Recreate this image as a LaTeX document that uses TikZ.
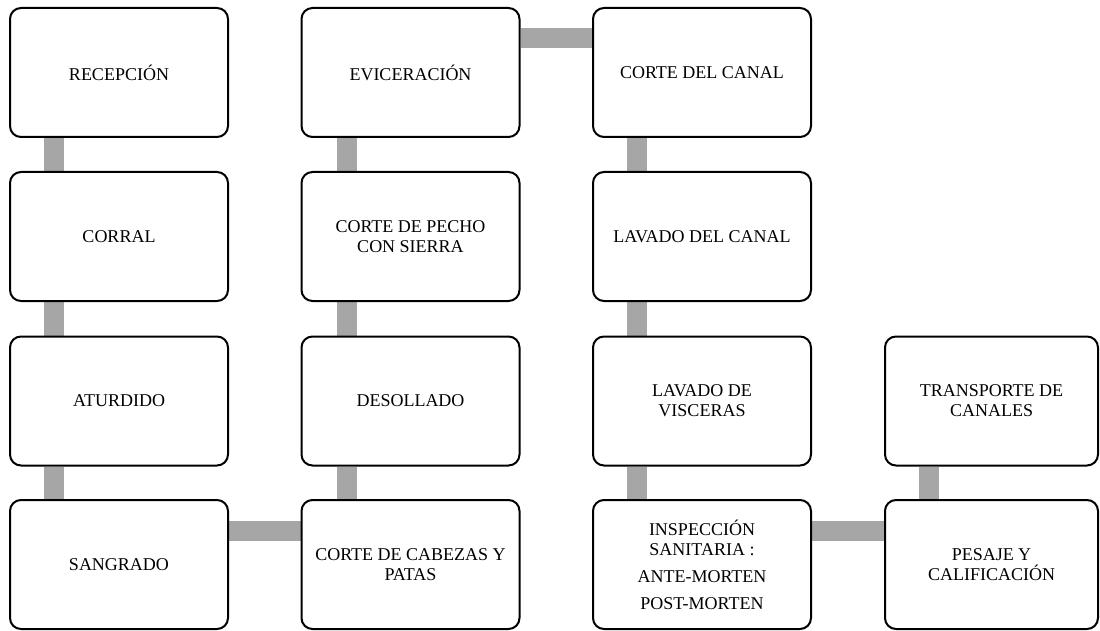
\documentclass[tikz,border=0pt]{standalone}
\usepackage{fontspec}
\setmainfont{Liberation Serif}
\usetikzlibrary{calc,backgrounds}
\definecolor{linkgray}{RGB}{166,166,166}
\begin{document}
\begin{tikzpicture}[x=1pt,y=-1pt,
  box/.style={draw=black, line width=2pt, rounded corners=11pt, fill=white,
    minimum width=218pt, minimum height=129pt, align=center, inner sep=0pt,
    font=\fontsize{18}{20}\selectfont},
  conn/.style={draw=linkgray, line width=20pt}]
\useasboundingbox (0,0) rectangle (1100,631);
% column 1
\node[box] (rec) at (119,72.5) {RECEPCIÓN};
\node[box] (cor) at (119,236.5) {CORRAL};
\node[box] (atu) at (119,401) {ATURDIDO};
\node[box] (san) at (119,564.5) {SANGRADO};
% column 2
\node[box] (cab) at (410.5,564.5) {CORTE DE CABEZAS Y\\PATAS};
\node[box] (des) at (410.5,401) {DESOLLADO};
\node[box] (pec) at (410.5,236.5) {CORTE DE PECHO\\CON SIERRA};
\node[box] (evi) at (410.5,72.5) {EVICERACIÓN};
% column 3
\node[box] (can) at (702,72.5) {CORTE DEL CANAL};
\node[box] (lav) at (702,236.5) {LAVADO DEL CANAL};
\node[box] (vis) at (702,401) {LAVADO DE\\VISCERAS};
\node[box] (ins) at (702,564.5) {INSPECCIÓN\\SANITARIA :\\[7pt]ANTE-MORTEN\\[7pt]POST-MORTEN};
% column 4
\node[box, minimum width=213pt] (pes) at (991.5,564.5) {PESAJE Y\\CALIFICACIÓN};
\node[box, minimum width=213pt] (tra) at (991.5,401) {TRANSPORTE DE\\CANALES};
\begin{scope}[on background layer]
  % column 1 vertical
  \draw[conn] ($(rec.south west)+(45,0)$) -- ($(cor.north west)+(45,0)$);
  \draw[conn] ($(cor.south west)+(45,0)$) -- ($(atu.north west)+(45,0)$);
  \draw[conn] ($(atu.south west)+(45,0)$) -- ($(san.north west)+(45,0)$);
  % column 1 -> column 2
  \draw[conn] ($(san.north east)+(0,32)$) -- ($(cab.north west)+(0,32)$);
  % column 2 vertical
  \draw[conn] ($(cab.north west)+(46,0)$) -- ($(des.south west)+(46,0)$);
  \draw[conn] ($(des.north west)+(46,0)$) -- ($(pec.south west)+(46,0)$);
  \draw[conn] ($(pec.north west)+(46,0)$) -- ($(evi.south west)+(46,0)$);
  % column 2 -> column 3
  \draw[conn] ($(evi.north east)+(0,31.5)$) -- ($(can.north west)+(0,31.5)$);
  % column 3 vertical
  \draw[conn] ($(can.south west)+(45,0)$) -- ($(lav.north west)+(45,0)$);
  \draw[conn] ($(lav.south west)+(45,0)$) -- ($(vis.north west)+(45,0)$);
  \draw[conn] ($(vis.south west)+(45,0)$) -- ($(ins.north west)+(45,0)$);
  % column 3 -> column 4
  \draw[conn] ($(ins.north east)+(0,32)$) -- ($(pes.north west)+(0,32)$);
  % column 4 vertical
  \draw[conn] ($(pes.north west)+(45,0)$) -- ($(tra.south west)+(45,0)$);
\end{scope}
\end{tikzpicture}
\end{document}
